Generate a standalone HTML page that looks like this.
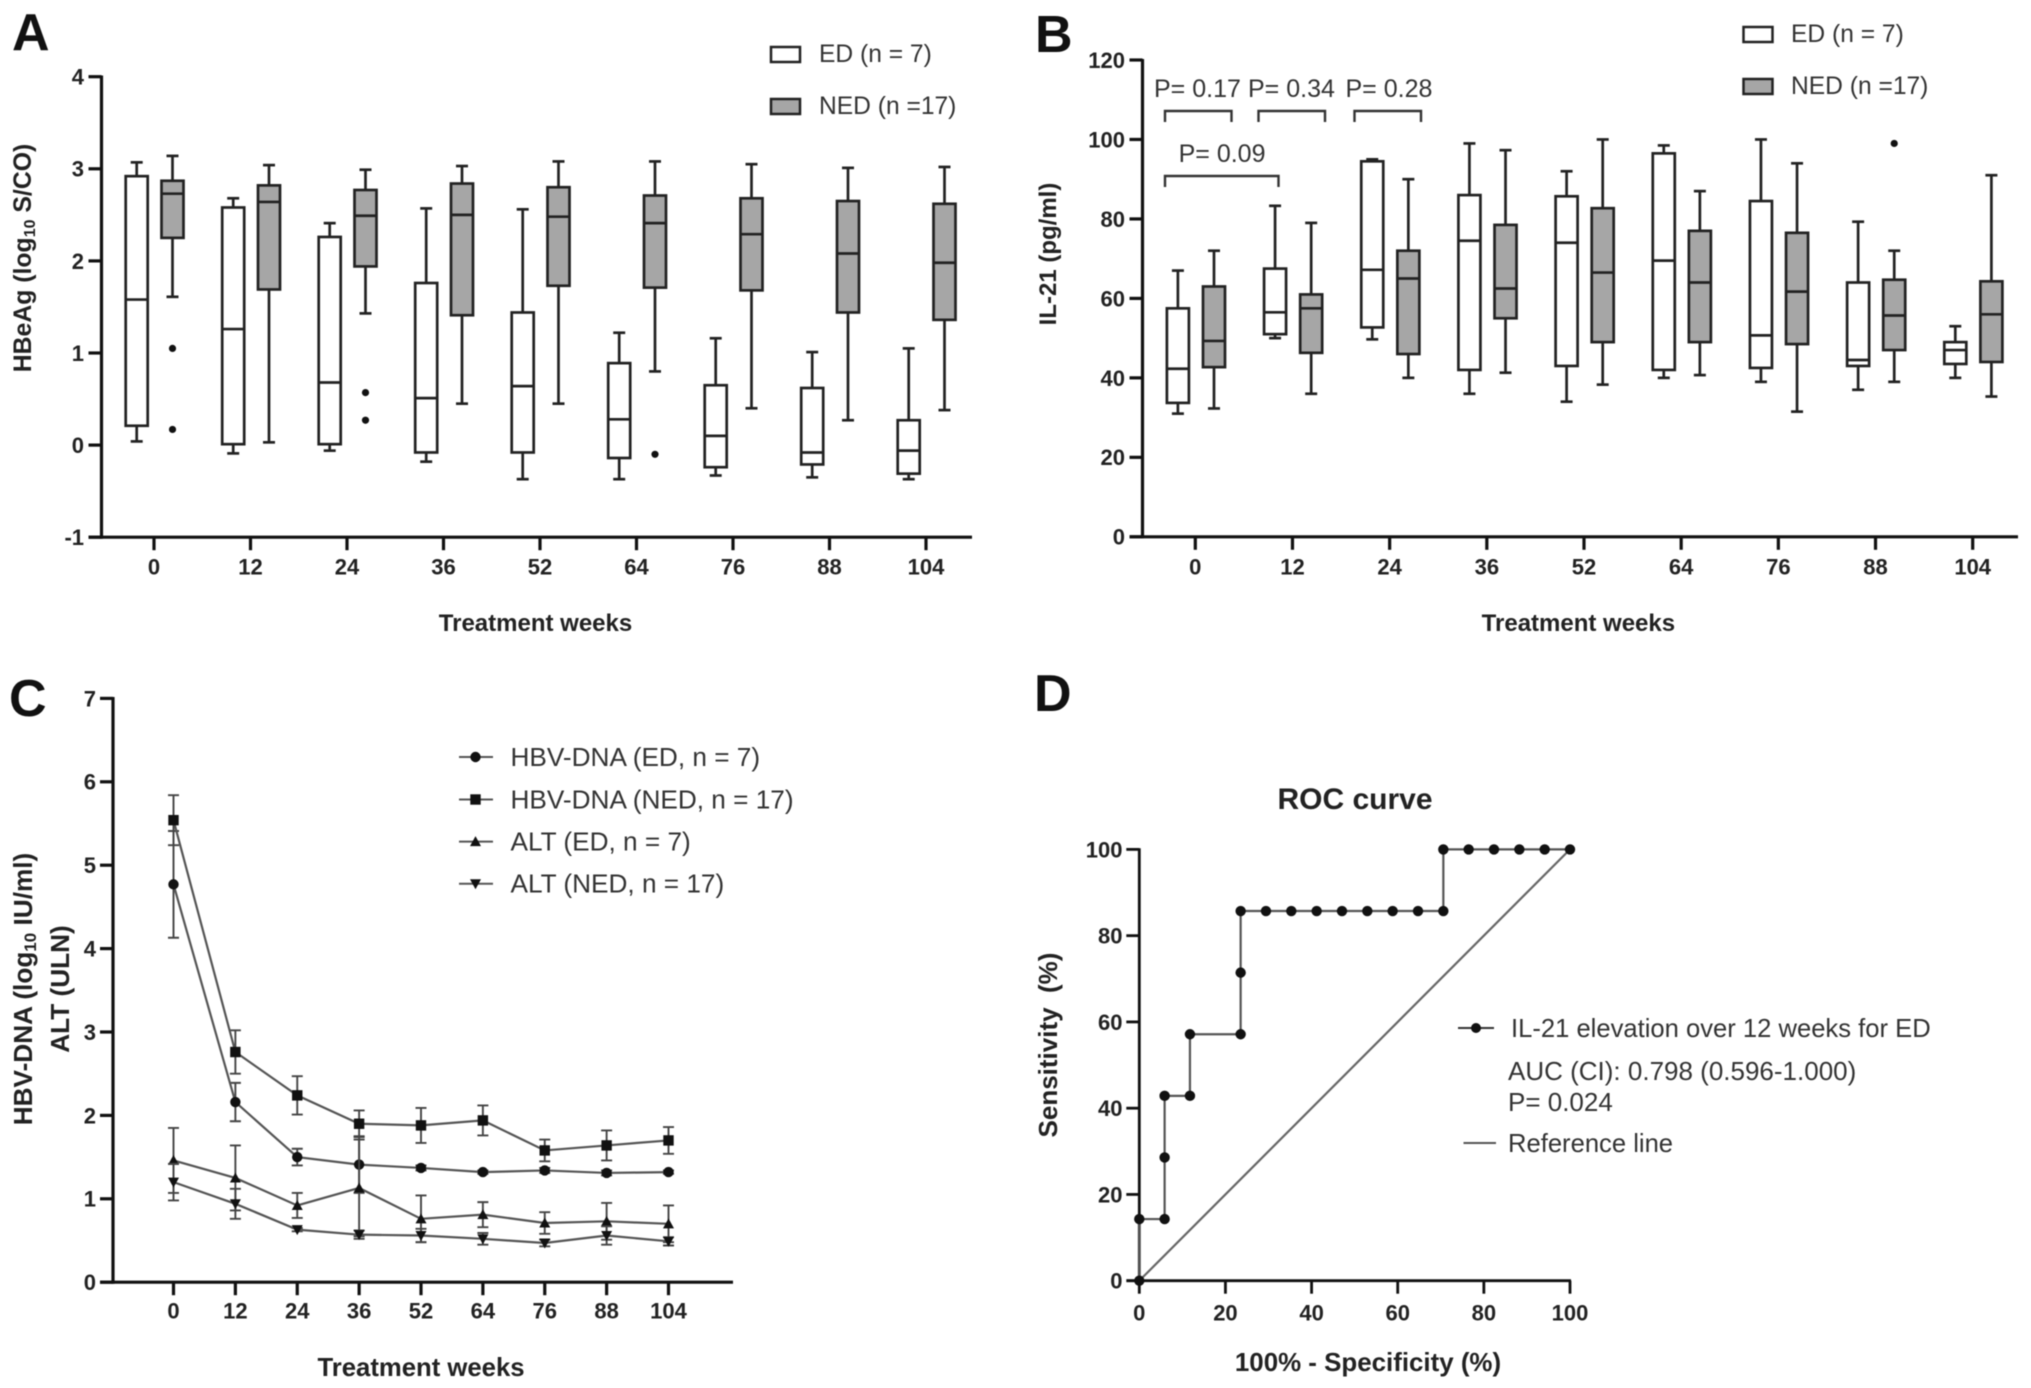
<!DOCTYPE html>
<html lang="en">
<head>
<meta charset="utf-8">
<title>HBeAg, IL-21, HBV-DNA and ROC panels</title>
<style>
html,body{margin:0;padding:0;background:#fff;}
#figure{display:block;width:2031px;height:1388px;filter:blur(0.6px);font-family:"Liberation Sans",Arial,sans-serif;}
text{font-family:"Liberation Sans",Arial,sans-serif;}
.tick{font-weight:bold;font-size:22px;fill:#222;}
.axt{font-weight:bold;font-size:24px;fill:#222;}
.leg{font-size:24.6px;fill:#333;}
.letter{font-weight:bold;font-size:52px;fill:#111;}
</style>
</head>
<body>
<svg id="figure" xmlns="http://www.w3.org/2000/svg" width="2031" height="1388" viewBox="0 0 2031 1388">
  <rect x="0" y="0" width="2031" height="1388" fill="#fff"/>

  <text class="letter" x="12" y="50">A</text>
  <text class="letter" x="1035" y="52">B</text>
  <text class="letter" x="9" y="716">C</text>
  <text class="letter" x="1034" y="711">D</text>

  <!-- Panel A static -->
  <text class="axt" transform="translate(31,258) rotate(-90)" text-anchor="middle" style="font-size:24.8px">HBeAg (log<tspan style="font-size:16px" dy="4">10</tspan><tspan dy="-4"> S/CO)</tspan></text>
  <text class="axt" x="535.5" y="631" text-anchor="middle">Treatment weeks</text>
  <rect x="771" y="47" width="29" height="15" fill="#fff" stroke="#222" stroke-width="2.5"/>
  <text class="leg" x="819" y="62">ED (n = 7)</text>
  <rect x="771" y="99" width="29" height="15" fill="#a6a6a6" stroke="#222" stroke-width="2.5"/>
  <text class="leg" x="819" y="114">NED (n =17)</text>

  <!-- Panel B static -->
  <text class="axt" transform="translate(1056,254) rotate(-90)" text-anchor="middle">IL-21 (pg/ml)</text>
  <text class="axt" x="1578.4" y="631" text-anchor="middle">Treatment weeks</text>
  <rect x="1743.5" y="27" width="29" height="15" fill="#fff" stroke="#222" stroke-width="2.5"/>
  <text class="leg" x="1791" y="42">ED (n = 7)</text>
  <rect x="1743.5" y="79" width="29" height="15" fill="#a6a6a6" stroke="#222" stroke-width="2.5"/>
  <text class="leg" x="1791" y="94">NED (n =17)</text>
  <text class="leg" x="1154" y="97" style="font-size:25px">P= 0.17</text>
  <text class="leg" x="1248" y="97" style="font-size:25px">P= 0.34</text>
  <text class="leg" x="1345.5" y="97" style="font-size:25px">P= 0.28</text>
  <text class="leg" x="1178.6" y="162" style="font-size:25px">P= 0.09</text>
  <path d="M1165 122V111H1231.5V122" fill="none" stroke="#333" stroke-width="2.4"/>
  <path d="M1258.5 122V111H1325V122" fill="none" stroke="#333" stroke-width="2.4"/>
  <path d="M1354.5 122V111H1421V122" fill="none" stroke="#333" stroke-width="2.4"/>
  <path d="M1165 187V176H1278.5V187" fill="none" stroke="#333" stroke-width="2.4"/>

  <!-- Panel C static -->
  <text class="axt" transform="translate(32,989) rotate(-90)" text-anchor="middle" style="font-size:26.2px">HBV-DNA (log<tspan style="font-size:17px" dy="4">10</tspan><tspan dy="-4"> IU/ml)</tspan></text>
  <text class="axt" transform="translate(69,989) rotate(-90)" text-anchor="middle" style="font-size:26.2px">ALT (ULN)</text>
  <text class="axt" x="421" y="1376" text-anchor="middle" style="font-size:25.7px">Treatment weeks</text>

  <!-- Panel D static -->
  <text class="axt" x="1355" y="809" text-anchor="middle" style="font-size:30px">ROC curve</text>
  <text class="axt" transform="translate(1057,1045) rotate(-90)" text-anchor="middle" style="font-size:26px;white-space:pre">Sensitivity  (%)</text>
  <text class="axt" x="1368" y="1371" text-anchor="middle" style="font-size:25.9px">100% - Specificity (%)</text>
  <line x1="1458" y1="1028" x2="1494" y2="1028" stroke="#333" stroke-width="2"/>
  <circle cx="1476" cy="1028" r="5" fill="#111"/>
  <text class="leg" x="1511" y="1037" style="font-size:25.6px">IL-21 elevation over 12 weeks for ED</text>
  <text class="leg" x="1508" y="1080" style="font-size:26px">AUC (CI): 0.798 (0.596-1.000)</text>
  <text class="leg" x="1508" y="1111" style="font-size:26px">P= 0.024</text>
  <line x1="1463.5" y1="1143" x2="1496" y2="1143" stroke="#555" stroke-width="2"/>
  <text class="leg" x="1508" y="1152" style="font-size:25.6px">Reference line</text>
</svg>
<script>
/* ---------- shared categories ---------- */
const weeks = ['0','12','24','36','52','64','76','88','104'];

/* ---------- Panel A: [low whisker, q1, median, q3, high whisker] ---------- */
const aTicks = [-1,0,1,2,3,4];
const aEdBoxes = [
  [0.04,0.21,1.58,2.92,3.07],[-0.09,0.01,1.26,2.58,2.68],[-0.06,0.01,0.68,2.26,2.41],
  [-0.18,-0.08,0.51,1.76,2.57],[-0.37,-0.08,0.64,1.44,2.56],[-0.37,-0.14,0.28,0.89,1.22],
  [-0.33,-0.24,0.10,0.65,1.16],[-0.35,-0.21,-0.08,0.62,1.01],[-0.37,-0.31,-0.06,0.27,1.05]
];
const aNedBoxes = [
  [1.61,2.25,2.73,2.87,3.14],[0.03,1.69,2.64,2.82,3.04],[1.43,1.94,2.49,2.77,2.99],
  [0.45,1.41,2.50,2.84,3.03],[0.45,1.73,2.48,2.80,3.08],[0.80,1.71,2.41,2.71,3.08],
  [0.40,1.68,2.29,2.68,3.05],[0.27,1.44,2.08,2.65,3.01],[0.38,1.36,1.98,2.62,3.02]
];
const aNedOutliers = [[1.05,0.17],[],[0.57,0.27],[],[],[-0.10],[],[],[]];

/* ---------- Panel B ---------- */
const bTicks = [0,20,40,60,80,100,120];
const bEdBoxes = [
  [31,33.7,42.3,57.5,67],[50,51,56.5,67.5,83.3],[49.7,52.7,67.2,94.5,95],
  [36,42,74.5,86,99],[34,43,74,85.7,92],[40,42,69.5,96.5,98.5],
  [39,42.5,50.7,84.5,100],[37,43,44.5,64,79.3],[40,43.5,47,49,53]
];
const bNedBoxes = [
  [32.3,42.7,49.3,63,72],[36,46.3,57.5,61,79],[40,46,65,72,90],
  [41.3,55,62.5,78.5,97.3],[38.3,49,66.5,82.7,100],[40.7,49,64,77,87],
  [31.5,48.5,61.7,76.5,94],[39,47,55.7,64.7,72],[35.3,44,56,64.3,91]
];
const bNedOutliers = [[],[],[],[],[],[],[],[99],[]];

/* ---------- Panel C ---------- */
const cTicks = [0,1,2,3,4,5,6,7];
const hbvEdMean = [4.77,2.16,1.50,1.41,1.37,1.32,1.34,1.31,1.32];
const hbvEdErr  = [0.64,0.23,0.10,0.34,0.03,0.02,0.03,0.03,0.02];
const hbvNedMean = [5.54,2.76,2.24,1.90,1.88,1.94,1.58,1.64,1.70];
const hbvNedErr  = [0.30,0.26,0.23,0.16,0.21,0.18,0.13,0.18,0.16];
const altEdMean = [1.46,1.25,0.92,1.13,0.76,0.81,0.71,0.73,0.70];
const altEdErr  = [0.39,0.39,0.15,0.58,0.28,0.15,0.13,0.22,0.22];
const altNedMean = [1.20,0.94,0.63,0.57,0.56,0.52,0.47,0.56,0.49];
const altNedErr  = [0.22,0.18,0.02,0.05,0.08,0.07,0.04,0.11,0.05];
const cLegendLabels = ['HBV-DNA (ED, n = 7)','HBV-DNA (NED, n = 17)','ALT (ED, n = 7)','ALT (NED, n = 17)'];

/* ---------- Panel D ---------- */
const dTicks = [0,20,40,60,80,100];
const rocSpecificity = [0,0,5.88,5.88,5.88,11.76,11.76,23.53,23.53,23.53,29.41,35.29,41.18,47.06,52.94,58.82,64.71,70.59,70.59,76.47,82.35,88.24,94.12,100];
const rocSensitivity = [0,14.29,14.29,28.57,42.86,42.86,57.14,57.14,71.43,85.71,85.71,85.71,85.71,85.71,85.71,85.71,85.71,85.71,100,100,100,100,100,100];
const referenceX = [0,100];
const referenceY = [0,100];

/* ---------- helpers ---------- */
const svg = document.getElementById('figure');
const NS = 'http://www.w3.org/2000/svg';
function mk(parent, tag, attrs, txt) {
  const e = document.createElementNS(NS, tag);
  for (const k in attrs) e.setAttribute(k, attrs[k]);
  if (txt !== undefined) e.textContent = txt;
  parent.appendChild(e);
  return e;
}
function linear(d0, d1, r0, r1) {
  return function (v) { return r0 + (v - d0) / (d1 - d0) * (r1 - r0); };
}
function drawYAxis(panel, axisX, yScale, ticks, yFrom, yTo, labelRight, sw) {
  const line = mk(svg, 'line', {x1:axisX, x2:axisX, y1:yFrom, y2:yTo, stroke:'#111', 'stroke-width':sw});
  
  
  ticks.forEach(function (t) {
    const tk = mk(svg, 'line', {x1:axisX-13, x2:axisX, y1:yScale(t), y2:yScale(t), stroke:'#111', 'stroke-width':sw});
    
    
    const lb = mk(svg, 'text', {x:labelRight, y:yScale(t)+7.9, 'text-anchor':'end', class:'tick'}, String(t));
    
    
  });
}
function drawXAxis(panel, axisY, xScale, labels, xFrom, xTo, labelY, sw) {
  const line = mk(svg, 'line', {x1:xFrom, x2:xTo, y1:axisY, y2:axisY, stroke:'#111', 'stroke-width':sw});
  
  
  labels.forEach(function (w, i) {
    const x = xScale(i);
    const tk = mk(svg, 'line', {x1:x, x2:x, y1:axisY, y2:axisY+13, stroke:'#111', 'stroke-width':sw});
    
    
    const lb = mk(svg, 'text', {x:x, y:labelY+7.9, 'text-anchor':'middle', class:'tick'}, w);
    
    
  });
}
function drawBox(panel, series, week, vals, cx, yScale, fill) {
  const w = 22, cap = 6;
  const g = mk(svg, 'g', {stroke:'#222', 'stroke-width':2.7, fill:'none'});
  
  
  mk(g, 'line', {x1:cx, x2:cx, y1:yScale(vals[0]), y2:yScale(vals[1])});
  mk(g, 'line', {x1:cx, x2:cx, y1:yScale(vals[3]), y2:yScale(vals[4])});
  mk(g, 'line', {x1:cx-cap, x2:cx+cap, y1:yScale(vals[0]), y2:yScale(vals[0])});
  mk(g, 'line', {x1:cx-cap, x2:cx+cap, y1:yScale(vals[4]), y2:yScale(vals[4])});
  mk(g, 'rect', {x:cx-w/2, y:yScale(vals[3]), width:w, height:yScale(vals[1])-yScale(vals[3]), fill:fill});
  mk(g, 'line', {x1:cx-w/2, x2:cx+w/2, y1:yScale(vals[2]), y2:yScale(vals[2])});
}
function drawOutliers(panel, week, vals, cx, yScale) {
  vals.forEach(function (v) {
    const c = mk(svg, 'circle', {cx:cx, cy:yScale(v), r:3.6, fill:'#111'});
    
    
  });
}
function marker(parent, kind, x, y) {
  if (kind === 'circle') return mk(parent, 'circle', {cx:x, cy:y, r:5.2, fill:'#111'});
  if (kind === 'square') return mk(parent, 'rect', {x:x-5.2, y:y-5.2, width:10.4, height:10.4, fill:'#111'});
  if (kind === 'up') return mk(parent, 'polygon', {points:(x-5.5)+','+(y+4.5)+' '+(x+5.5)+','+(y+4.5)+' '+x+','+(y-5.5), fill:'#111'});
  return mk(parent, 'polygon', {points:(x-5.5)+','+(y-4.5)+' '+(x+5.5)+','+(y-4.5)+' '+x+','+(y+5.5), fill:'#111'});
}

/* ---------- Panel A ---------- */
const xA = linear(0, 8, 154, 926);
const yA = linear(-1, 4, 537.2, 76.7);
drawYAxis('panel-a', 101.5, yA, aTicks, 75.5, 538.7, 84, 3.2);
drawXAxis('panel-a', 537.2, xA, weeks, 88.5, 972, 566.7, 3.2);
weeks.forEach(function (w, i) {
  drawBox('panel-a', 'ed', w, aEdBoxes[i], xA(i)-17.3, yA, '#fff');
  drawBox('panel-a', 'ned', w, aNedBoxes[i], xA(i)+18.5, yA, '#a6a6a6');
  drawOutliers('panel-a', w, aNedOutliers[i], xA(i)+18.5, yA);
});

/* ---------- Panel B ---------- */
const xB = linear(0, 8, 1195.3, 1972.7);
const yB = linear(0, 120, 536.8, 60);
drawYAxis('panel-b', 1142.5, yB, bTicks, 59, 538.3, 1125, 3.2);
drawXAxis('panel-b', 536.8, xB, weeks, 1129.5, 2018, 566.7, 3.2);
weeks.forEach(function (w, i) {
  drawBox('panel-b', 'ed', w, bEdBoxes[i], xB(i)-17.4, yB, '#fff');
  drawBox('panel-b', 'ned', w, bNedBoxes[i], xB(i)+18.7, yB, '#a6a6a6');
  drawOutliers('panel-b', w, bNedOutliers[i], xB(i)+18.7, yB);
});

/* ---------- Panel C ---------- */
const xC = linear(0, 8, 173.5, 668.5);
const yC = linear(0, 7, 1282.2, 698.4);
drawYAxis('panel-c', 113, yC, cTicks, 697, 1283.7, 96, 3.2);
drawXAxis('panel-c', 1282.2, xC, weeks, 100, 733, 1310.7, 3.2);
function drawSeries(name, means, errs, kind) {
  const g = mk(svg, 'g', {});
  
  
  means.forEach(function (m, i) {
    const x = xC(i), hi = yC(m + errs[i]), lo = yC(m - errs[i]);
    mk(g, 'path', {d:'M'+(x-5.5)+' '+hi+'H'+(x+5.5)+'M'+x+' '+hi+'V'+lo+'M'+(x-5.5)+' '+lo+'H'+(x+5.5), fill:'none', stroke:'#444', 'stroke-width':1.9});
  });
  const pts = means.map(function (m, i) { return xC(i) + ',' + yC(m); }).join(' ');
  mk(g, 'polyline', {points:pts, fill:'none', stroke:'#555', 'stroke-width':2.2});
  means.forEach(function (m, i) {
    const p = marker(g, kind, xC(i), yC(m));
    
    
  });
}
drawSeries('hbv-dna-ed', hbvEdMean, hbvEdErr, 'circle');
drawSeries('hbv-dna-ned', hbvNedMean, hbvNedErr, 'square');
drawSeries('alt-ed', altEdMean, altEdErr, 'up');
drawSeries('alt-ned', altNedMean, altNedErr, 'down');
const cKinds = ['circle','square','up','down'];
const cLegendY = [757, 799.5, 841.6, 883.7];
cLegendLabels.forEach(function (label, i) {
  const ln = mk(svg, 'line', {x1:459, x2:493, y1:cLegendY[i], y2:cLegendY[i], stroke:'#555', 'stroke-width':2});
  
  
  const mrk = marker(svg, cKinds[i], 475.5, cLegendY[i]);
  
  
  const tx = mk(svg, 'text', {x:510.5, y:cLegendY[i]+9, class:'leg', style:'font-size:26.2px'}, label);
  
  
});

/* ---------- Panel D ---------- */
const xD = linear(0, 100, 1139.3, 1570);
const yD = linear(0, 100, 1280.7, 849.4);
const dLabelsX = dTicks.map(String);
const xDi = function (i) { return xD(dTicks[i]); };
drawYAxis('panel-d', 1139.3, yD, dTicks, 848.2, 1282, 1122.5, 2.8);
drawXAxis('panel-d', 1280.7, xDi, dLabelsX, 1126.5, 1571, 1312.5, 2.8);
const refLine = mk(svg, 'polyline', {points:referenceX.map(function (v, i) { return xD(v) + ',' + yD(referenceY[i]); }).join(' '), fill:'none', stroke:'#666', 'stroke-width':2.2});


const rocLine = mk(svg, 'polyline', {points:rocSpecificity.map(function (v, i) { return xD(v) + ',' + yD(rocSensitivity[i]); }).join(' '), fill:'none', stroke:'#555', 'stroke-width':2.2});


rocSpecificity.forEach(function (v, i) {
  const c = mk(svg, 'circle', {cx:xD(v), cy:yD(rocSensitivity[i]), r:5.2, fill:'#111'});
  
  
});
</script>
</body>
</html>
